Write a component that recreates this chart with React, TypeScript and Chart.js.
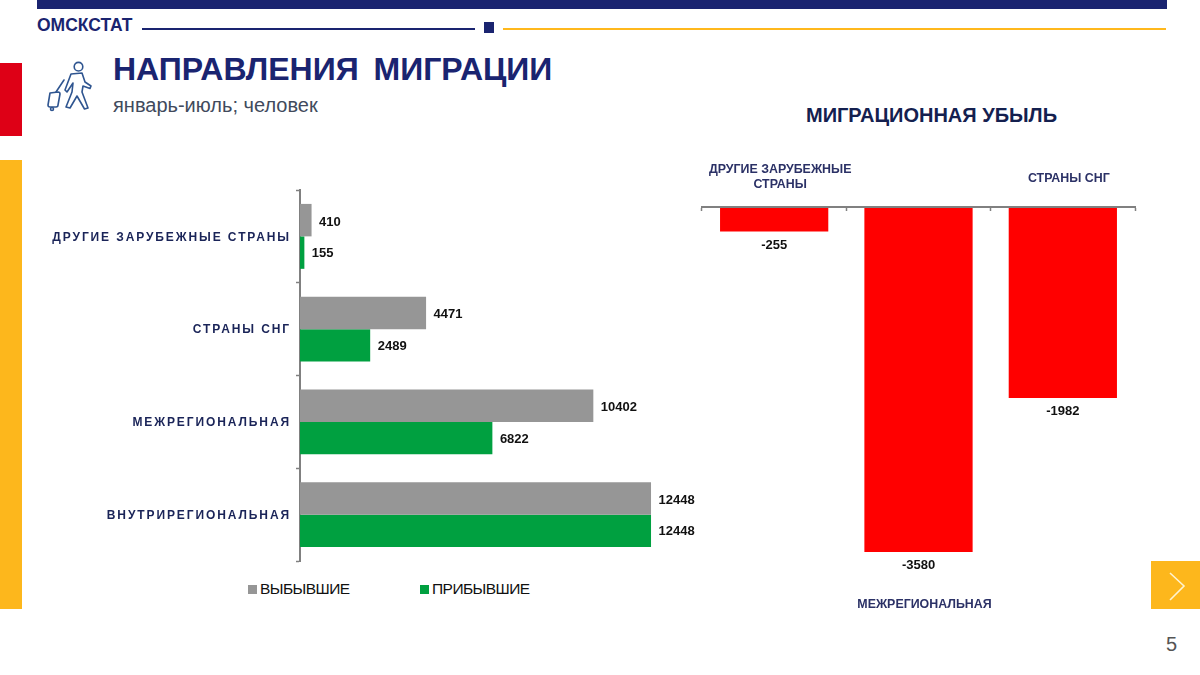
import React, { useEffect, useRef } from "react";
import { Chart, registerables } from "chart.js";

Chart.register(...registerables);

const FONT = '"Liberation Sans", Arial, sans-serif';
const NAVY = "#1a2470";

const directions = ["ДРУГИЕ ЗАРУБЕЖНЫЕ СТРАНЫ", "СТРАНЫ СНГ", "МЕЖРЕГИОНАЛЬНАЯ", "ВНУТРИРЕГИОНАЛЬНАЯ"];
const departed = [410, 4471, 10402, 12448];
const arrived = [155, 2489, 6822, 12448];
const seriesNames = ["ВЫБЫВШИЕ", "ПРИБЫВШИЕ"];
const seriesColors = ["#969696", "#00A040"];

const lossCategories = [["ДРУГИЕ ЗАРУБЕЖНЫЕ", "СТРАНЫ"], ["МЕЖРЕГИОНАЛЬНАЯ"], ["СТРАНЫ СНГ"]];
const lossValues = [-255, -3580, -1982];

const hBarLabels = {
  id: "hBarLabels",
  beforeDraw(chart: any) {
    chart.ctx.letterSpacing = "1.9px";
  },
  afterDatasetsDraw(chart: any) {
    const { ctx } = chart;
    ctx.save();
    ctx.letterSpacing = "0px";
    ctx.font = `bold 13px ${FONT}`;
    ctx.fillStyle = "#111111";
    ctx.textAlign = "left";
    ctx.textBaseline = "middle";
    chart.data.datasets.forEach((ds: any, di: number) => {
      chart.getDatasetMeta(di).data.forEach((bar: any, i: number) => {
        ctx.fillText(String(ds.data[i]), bar.x + 7.5, bar.y + (di === 0 ? 2 : 1));
      });
    });
    ctx.restore();
  },
};

const vBarLabels = {
  id: "vBarLabels",
  afterDatasetsDraw(chart: any) {
    const { ctx } = chart;
    const xs = chart.scales.x;
    ctx.save();
    ctx.textAlign = "center";
    ctx.textBaseline = "middle";
    ctx.font = `bold 13px ${FONT}`;
    ctx.fillStyle = "#111111";
    chart.data.datasets[0].data.forEach((v: number, i: number) => {
      const bar = chart.getDatasetMeta(0).data[i];
      ctx.fillText(String(v), bar.x, bar.y + 13.5);
    });
    ctx.font = `bold 12.4px ${FONT}`;
    ctx.fillStyle = "#2b3166";
    const axisY = chart.scales.y.getPixelForValue(0);
    (chart.data.labels as string[][]).forEach((lines, i) => {
      const cx = xs.getPixelForValue(i) + 6;
      if (i === 1) {
        const b = chart.getDatasetMeta(0).data[i];
        ctx.fillText(lines[0], cx, b.y + 52);
      } else if (lines.length === 2) {
        ctx.fillText(lines[0], cx, axisY - 37);
        ctx.fillText(lines[1], cx, axisY - 22);
      } else {
        ctx.fillText(lines[0], cx, axisY - 28);
      }
    });
    ctx.restore();
  },
};

function Box(p: { x: number; y: number; w: number; h: number; c: string }) {
  return <div style={{ position: "absolute", left: p.x, top: p.y, width: p.w, height: p.h, background: p.c }} />;
}

function Txt(p: { x: number; y: number; s: any; children: any }) {
  return (
    <div style={{ position: "absolute", left: p.x, top: p.y, whiteSpace: "pre", fontFamily: FONT, ...p.s }}>
      {p.children}
    </div>
  );
}

export default function App() {
  const leftRef = useRef<HTMLCanvasElement>(null);
  const rightRef = useRef<HTMLCanvasElement>(null);

  useEffect(() => {
    document.body.style.margin = "0";
    const left = new Chart(leftRef.current!, {
      type: "bar",
      data: {
        labels: directions,
        datasets: [
          { label: seriesNames[0], data: departed, backgroundColor: seriesColors[0], categoryPercentage: 0.7, barPercentage: 1 },
          { label: seriesNames[1], data: arrived, backgroundColor: seriesColors[1], categoryPercentage: 0.7, barPercentage: 1 },
        ],
      },
      options: {
        indexAxis: "y",
        animation: false,
        responsive: false,
        layout: { padding: { top: 10, bottom: 9 } },
        plugins: { legend: { display: false }, tooltip: { enabled: false } },
        scales: {
          x: { display: false, min: 0, max: 14894 },
          y: {
            afterFit(scale: any) {
              scale.width = 300;
              scale.paddingTop = 0;
              scale.paddingBottom = 0;
            },
            border: { color: "#808080", width: 2 },
            grid: { drawOnChartArea: false, color: "#808080", tickLength: 4, tickWidth: 1.5 },
            ticks: { color: "#1a2458", font: { family: FONT, size: 12, weight: "bold" }, padding: 5, labelOffset: 1, autoSkip: false },
          },
        },
      },
      plugins: [hBarLabels],
    } as any);

    const right = new Chart(rightRef.current!, {
      type: "bar",
      data: {
        labels: lossCategories,
        datasets: [{ label: "МИГРАЦИОННАЯ УБЫЛЬ", data: lossValues, backgroundColor: "#FF0000", categoryPercentage: 0.75, barPercentage: 1 }],
      },
      options: {
        animation: false,
        responsive: false,
        layout: { padding: { top: 57, bottom: 27.4, left: 12, right: 15 } },
        plugins: { legend: { display: false }, tooltip: { enabled: false } },
        scales: {
          y: { display: false, min: -4000, max: 0 },
          x: {
            position: { y: 0 },
            border: { color: "#808080", width: 2, z: 1 },
            grid: { drawOnChartArea: false, color: "#808080", tickLength: 3, tickWidth: 1.5 },
            ticks: { display: false },
          },
        },
      },
      plugins: [vBarLabels],
    } as any);

    return () => {
      left.destroy();
      right.destroy();
    };
  }, []);

  return (
    <div style={{ position: "relative", width: 1200, height: 675, overflow: "hidden", background: "#fff" }}>
      <Box x={37} y={0} w={1130} h={9} c={NAVY} />
      <Txt x={37} y={15} s={{ fontSize: 17.5, fontWeight: 700, color: NAVY, letterSpacing: "0px", lineHeight: "20px" }}>ОМСКСТАТ</Txt>
      <Box x={142} y={28} w={333} h={2} c={NAVY} />
      <Box x={484} y={22} w={10} h={11} c={NAVY} />
      <Box x={503} y={28} w={663} h={2} c="#FFB81C" />
      <Box x={0} y={63} w={22} h={73} c="#DE0016" />
      <Box x={0} y={160} w={22} h={449} c="#FDB71C" />

      <svg style={{ position: "absolute", left: 44, top: 58 }} width="50" height="56" viewBox="44 58 50 56" fill="none" stroke="#2f5590" strokeWidth="1.6" strokeLinejoin="round" strokeLinecap="round">
        <circle cx="78.500" cy="66.700" r="4.300" />
        <path d="M71 74 L82 73 L85 82 L91 86 L90 88.500 L83 86 L82 92 L88 108 L84.500 109 L77 96 L70 108 L66 107 L72 92 L73 83 L67 92 L65 90 Z" />
        <path d="M50 93 L58 92 Q60 92 60 94 L58 105 Q58 107 56 107 L50 107 Q48 107 48 105 Z" />
        <path d="M56 92 L64 80" />
        <circle cx="52" cy="109" r="1.500" />
      </svg>

      <Txt x={113} y={50} s={{ fontSize: 32, fontWeight: 700, color: NAVY, lineHeight: "38px", wordSpacing: "6px" }}>НАПРАВЛЕНИЯ МИГРАЦИИ</Txt>
      <Txt x={113} y={93} s={{ fontSize: 20, color: "#414a5c", lineHeight: "24px" }}>январь-июль; человек</Txt>
      <Txt x={806} y={102} s={{ fontSize: 20, fontWeight: 700, color: "#14204f", lineHeight: "26px" }}>МИГРАЦИОННАЯ УБЫЛЬ</Txt>

      <canvas ref={leftRef} width={720} height={390} style={{ position: "absolute", left: 0, top: 180, width: 720, height: 390 }} />
      <canvas ref={rightRef} width={460} height={470} style={{ position: "absolute", left: 690, top: 150, width: 460, height: 470 }} />

      <Box x={248} y={585} w={9} h={9} c={seriesColors[0]} />
      <Txt x={260} y={580} s={{ fontSize: 15.5, color: "#111", lineHeight: "18px", letterSpacing: "-0.55px" }}>{seriesNames[0]}</Txt>
      <Box x={420} y={585} w={9} h={9} c={seriesColors[1]} />
      <Txt x={432} y={580} s={{ fontSize: 15.5, color: "#111", lineHeight: "18px", letterSpacing: "-0.55px" }}>{seriesNames[1]}</Txt>

      <Box x={1151} y={561} w={49} h={48} c="#FDB71C" />
      <svg style={{ position: "absolute", left: 1151, top: 561 }} width="49" height="48" fill="none" stroke="#fff3d0" strokeWidth="1.6">
        <path d="M19 12 L33 25 L19 39" />
      </svg>
      <Txt x={1166} y={633} s={{ fontSize: 20, color: "#555", lineHeight: "22px" }}>5</Txt>
    </div>
  );
}
